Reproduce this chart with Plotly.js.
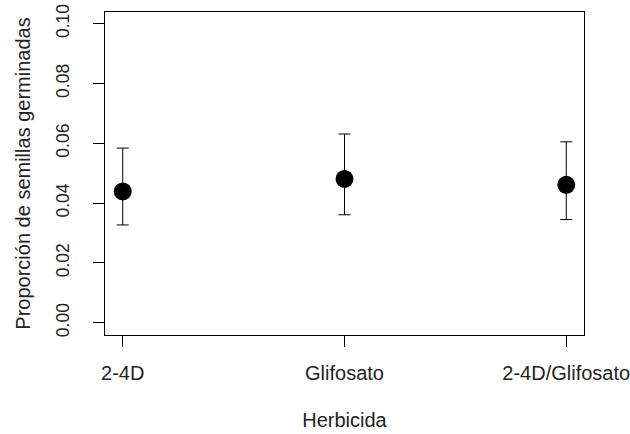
<!DOCTYPE html>
<html>
<head>
<meta charset="utf-8">
<script src="https://cdn.plot.ly/plotly-3.0.1.min.js"></script>
<style>html,body{margin:0;padding:0;background:#fff;}#chart{width:630px;height:434px;}</style>
</head>
<body>
<div id="chart"></div>
<script>
const categories = ["2-4D", "Glifosato", "2-4D/Glifosato"];
const proportion = [0.0439, 0.0481, 0.0461];
const upperBound = [0.0584, 0.0631, 0.0605];
const lowerBound = [0.0327, 0.0361, 0.0345];
const yTicks = [0, 0.02, 0.04, 0.06, 0.08, 0.10];

const errPlus = proportion.map((v, i) => upperBound[i] - v);
const errMinus = proportion.map((v, i) => v - lowerBound[i]);

const fam = "Liberation Sans, Arial, sans-serif";
const xTickFont = {family: fam, size: 20, color: "#222"};
const yTickFont = {family: fam, size: 17.5, color: "#222"};
const titleFont = {family: fam, size: 20, color: "#222"};

const trace = {
  x: categories,
  y: proportion,
  type: "scatter",
  mode: "markers",
  marker: {color: "#000", size: 18, symbol: "circle"},
  error_y: {type: "data", symmetric: false, array: errPlus, arrayminus: errMinus,
            color: "#000", thickness: 1, width: 6},
  hoverinfo: "skip"
};

const layout = {
  width: 630, height: 434,
  margin: {l: 105, r: 46, t: 12, b: 99},
  paper_bgcolor: "#fff", plot_bgcolor: "#fff",
  showlegend: false,
  font: {family: fam, size: 18, color: "#222"},
  xaxis: {
    type: "category",
    range: [-0.08, 2.08],
    showgrid: false, zeroline: false,
    showline: true, mirror: true, linecolor: "#000", linewidth: 1,
    ticks: "outside", ticklen: 11, tickcolor: "#000", tickwidth: 1,
    ticklabelstandoff: 9,
    tickfont: xTickFont,
    title: {text: "Herbicida", font: titleFont, standoff: 29}
  },
  yaxis: {
    range: [-0.0041, 0.1039],
    tickvals: yTicks,
    tickformat: ".2f",
    tickangle: -90,
    showgrid: false, zeroline: false,
    showline: true, mirror: true, linecolor: "#000", linewidth: 1,
    ticks: "outside", ticklen: 11, tickcolor: "#000", tickwidth: 1,
    ticklabelstandoff: 17,
    tickfont: yTickFont,
    title: {text: "Proporción de semillas germinadas", font: titleFont, standoff: 17}
  }
};

Plotly.newPlot("chart", [trace], layout, {staticPlot: true, displayModeBar: false});
</script>
</body>
</html>
